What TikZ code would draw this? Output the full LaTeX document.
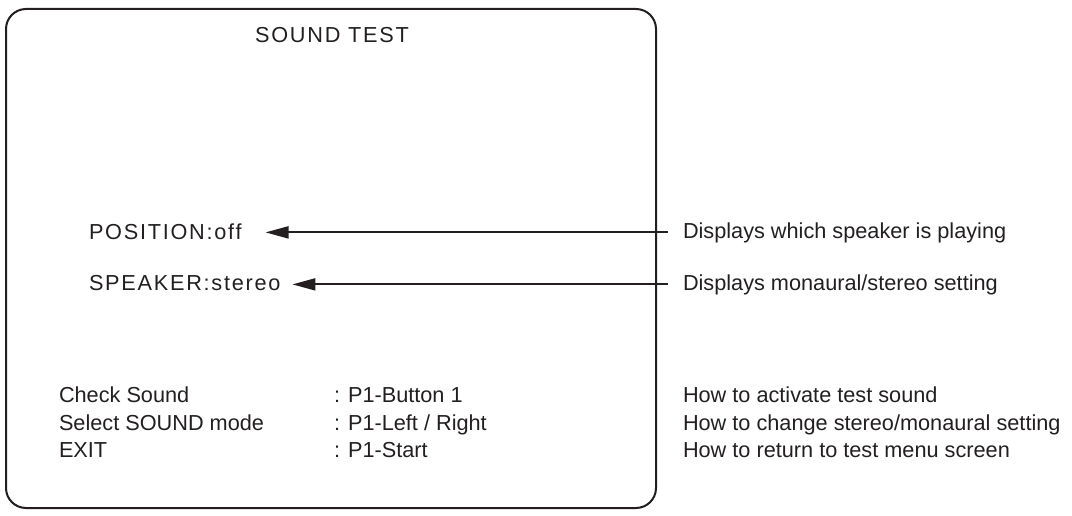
\documentclass[tikz,border=0pt]{standalone}
\usepackage{fontspec}
\setmainfont{Liberation Sans}
\newfontfamily\screenfont[LetterSpace=8]{Liberation Sans}
\usetikzlibrary{arrows.meta}
\definecolor{ink}{RGB}{35,31,32}
\begin{document}
\begin{tikzpicture}[x=1pt,y=-1pt,line width=2pt,>={Triangle[length=23pt,width=12pt]},
	font=\fontsize{21.7}{27}\selectfont, line join=round,
	txt/.style={anchor=base west,inner sep=0pt,text=ink},
	scr/.style={txt,font=\fontsize{21.7}{27}\selectfont\screenfont}]
	\def\xa{58} \def\xb{333} \def\xc{682} % columns
	\def\ya{402} \def\yb{430} \def\yc{457} % rows
	\useasboundingbox (0,0) rectangle (1072,516);
	\draw[ink,rounded corners=20pt] (6,9) rectangle (656,508);
	\node[scr,anchor=base] (title) at (332,43) {SOUND TEST};
	\node[scr] (pos) at (88,240) {POSITION:off};
	\node[scr] (spk) at (88,290) {SPEAKER:stereo};
	\node[txt] (dpos) at (\xc,238) {Displays which speaker is playing};
	\node[txt] (dspk) at (\xc,290) {Displays monaural/stereo setting};
	\draw[ink,->,shorten <=14pt,shorten >=23pt] (dpos.west) -- (dpos.west -| pos.east);
	\draw[ink,->,shorten <=14pt,shorten >=11pt] (dspk.west) -- (dspk.west -| spk.east);
	\node[txt] (chk) at (\xa,\ya) {Check Sound};
	\node[txt] (sel) at (\xa,\yb) {Select SOUND mode};
	\node[txt] (ext) at (\xa,\yc) {EXIT};
	\node[txt] (kchk) at (\xb,\ya) {: P1-Button 1};
	\node[txt] (ksel) at (\xb,\yb) {: P1-Left / Right};
	\node[txt] (kext) at (\xb,\yc) {: P1-Start};
	\node[txt] (hchk) at (\xc,\ya) {How to activate test sound};
	\node[txt] (hsel) at (\xc,\yb) {How to change stereo/monaural setting};
	\node[txt] (hext) at (\xc,\yc) {How to return to test menu screen};
\end{tikzpicture}
\end{document}
